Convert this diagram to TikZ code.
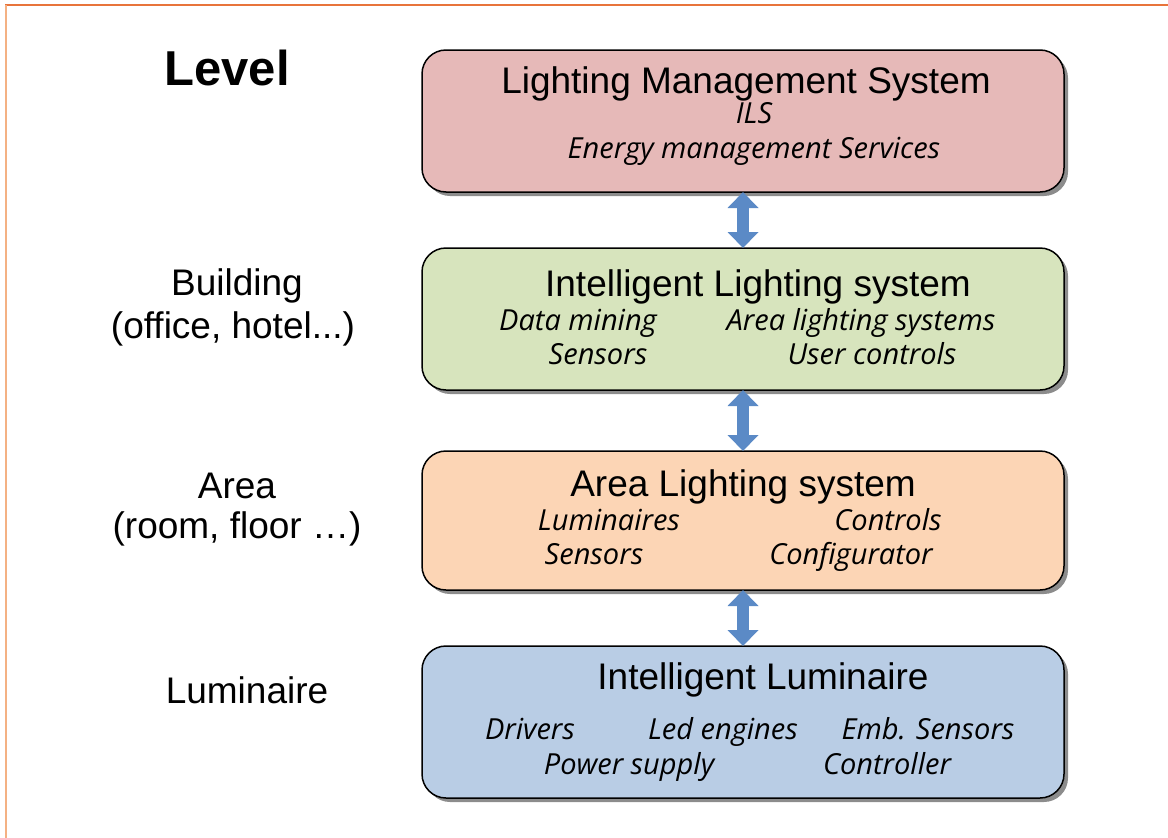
\documentclass[tikz,border=0pt]{standalone}
\usepackage{fontspec}
\setmainfont{Liberation Sans}
\newfontfamily\itf{Open Sans}
\usetikzlibrary{shadows,arrows.meta}
\definecolor{redbox}{HTML}{E6B9B8}
\definecolor{greenbox}{HTML}{D7E4BD}
\definecolor{orangebox}{HTML}{FCD5B5}
\definecolor{bluebox}{HTML}{B9CDE5}
\definecolor{arrowblue}{HTML}{5B8AC6}
\definecolor{frametop}{HTML}{E8743B}
\definecolor{frameleft}{HTML}{F4B183}
\tikzset{
  levelbox/.style={draw=black, line width=1.5pt, rounded corners=24pt,
    drop shadow={shadow xshift=4pt, shadow yshift=-4pt, opacity=0.45, fill=black}},
  ttl/.style={anchor=base, font=\fontsize{37}{40}\selectfont},
  sub/.style={anchor=base, font=\itf\itshape\fontsize{29}{32}\selectfont},
  lvl/.style={anchor=base, font=\fontsize{37}{40}\selectfont},
  link/.style={draw=arrowblue, line width=12pt,
    {Triangle[width=30pt,length=16pt]}-{Triangle[width=30pt,length=16pt]}}
}
\begin{document}
\begin{tikzpicture}[x=1pt,y=-1pt]
\useasboundingbox[fill=white] (0,0) rectangle (1168,838);
\draw[frametop, line width=2pt] (5,5) -- (1168,5);
\draw[frameleft, line width=2.5pt] (6,5) -- (6,838);
% boxes
\path[levelbox, fill=redbox] (422,50) rectangle (1064,192);
\path[levelbox, fill=greenbox] (422,248) rectangle (1064,390);
\path[levelbox, fill=orangebox] (422,451) rectangle (1064,590);
\path[levelbox, fill=bluebox] (422,646) rectangle (1064,798);
\coordinate (b1s) at (743,192);
\coordinate (b2n) at (743,248);
\coordinate (b2s) at (743,390);
\coordinate (b3n) at (743,451);
\coordinate (b3s) at (743,590);
\coordinate (b4n) at (743,646);
\draw[link] (b1s) -- (b2n);
\draw[link] (b2s) -- (b3n);
\draw[link] (b3s) -- (b4n);
% box 1
\node[ttl] (t1) at (746,93) {Lighting Management System};
\node[sub] (s11) at (754,123) {ILS};
\node[sub] (s12) at (754,158) {Energy management Services};
% box 2
\node[ttl] (t2) at (758,296) {Intelligent Lighting system};
\node[sub] (s21) at (578,330) {Data mining};
\node[sub] (s22) at (861,330) {Area lighting systems};
\node[sub] (s23) at (598,364) {Sensors};
\node[sub] (s24) at (872,364) {User controls};
% box 3
\node[ttl] (t3) at (743,496) {Area Lighting system};
\node[sub] (s31) at (609,530) {Luminaires};
\node[sub] (s32) at (888,530) {Controls};
\node[sub] (s33) at (594,564) {Sensors};
\node[sub] (s34) at (851,564) {Configurator};
% box 4
\node[ttl] (t4) at (763,689) {Intelligent Luminaire};
\node[sub] (s41) at (530,739) {Drivers};
\node[sub] (s42) at (723,739) {Led engines};
\node[sub] (s43) at (928,739) {Emb. Sensors};
\node[sub] (s44) at (629,774) {Power supply};
\node[sub] (s45) at (887,774) {Controller};
% left labels
\node[anchor=base, font=\bfseries\fontsize{49}{52}\selectfont] (lev) at (227,85) {Level};
\node[lvl] (l1) at (237,295) {Building};
\node[lvl] (l2) at (233,338) {(office, hotel...)};
\node[lvl] (l3) at (237,498) {Area};
\node[lvl] (l4) at (237,538) {(room, floor …)};
\node[lvl] (l5) at (247,703) {Luminaire};
\end{tikzpicture}
\end{document}
